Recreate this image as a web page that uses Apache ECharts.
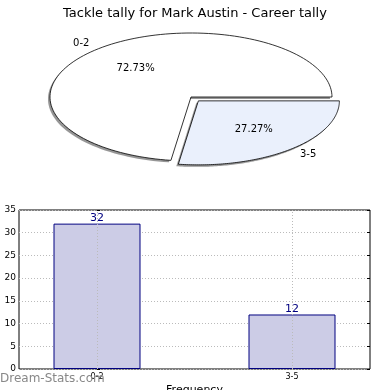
<!DOCTYPE html>
<html>
<head>
<meta charset="utf-8">
<script src="https://cdn.jsdelivr.net/npm/echarts@6/dist/echarts.min.js"></script>
<style>html,body{margin:0;padding:0;background:#fff;}#c{width:390px;height:390px;}</style>
</head>
<body>
<div id="c"></div>
<script>
var titleText = 'Tackle tally for Mark Austin - Career tally';
var pieCategories = ['0-2', '3-5'];
var pieValues = [32, 12];
var pieColors = ['#ffffff', '#eaf0fc'];
var pieExplode = [0, 0.08];

var barCategories = ['0-2', '3-5'];
var barValues = [32, 12];
var yTicks = [0, 5, 10, 15, 20, 25, 30, 35];

var chart = echarts.init(document.getElementById('c'));
var FONT = 'DejaVu Sans';

var pieTotal = pieValues.reduce(function (a, b) { return a + b; }, 0);
var PCX = 191, PCY = 97, PRX = 141, PRY = 64;

function pieRender(params, api) {
  var idx = params.dataIndex;
  var before = 0;
  for (var i = 0; i < idx; i++) before += pieValues[i];
  var v = api.value(1);
  var a0 = before / pieTotal * 2 * Math.PI;
  var a1 = (before + v) / pieTotal * 2 * Math.PI;
  var mid = (a0 + a1) / 2;
  var ex = pieExplode[idx];
  var cx = PCX + ex * PRX * Math.cos(mid);
  var cy = PCY - ex * PRY * Math.sin(mid);
  var pts = [[cx, cy]];
  var n = 120;
  for (var k = 0; k <= n; k++) {
    var t = a0 + (a1 - a0) * k / n;
    pts.push([cx + PRX * Math.cos(t), cy - PRY * Math.sin(t)]);
  }
  var lx = cx + 1.1 * PRX * Math.cos(mid);
  var ly = cy - 1.1 * PRY * Math.sin(mid);
  var px = cx + 0.6 * PRX * Math.cos(mid);
  var py = cy - 0.6 * PRY * Math.sin(mid);
  var pct = (v / pieTotal * 100).toFixed(2) + '%';
  var shadowPts = pts.map(function (p) { return [p[0] - 2, p[1] + 2]; });
  return {
    type: 'group',
    children: [
      {
        type: 'polygon',
        shape: { points: shadowPts },
        style: { fill: 'rgba(0,0,0,0.35)', shadowColor: 'rgba(0,0,0,0.3)', shadowBlur: 1 }
      },
      {
        type: 'polygon',
        shape: { points: pts },
        style: { fill: pieColors[idx], stroke: '#000', lineWidth: 0.8 }
      },
      {
        type: 'text',
        style: {
          x: lx, y: ly, text: pieCategories[idx],
          align: Math.cos(mid) < 0 ? 'right' : 'left', verticalAlign: 'middle',
          fill: '#000', font: '10px "DejaVu Sans"'
        }
      },
      {
        type: 'text',
        style: {
          x: px, y: py, text: pct,
          align: 'center', verticalAlign: 'middle',
          fill: '#000', font: '10px "DejaVu Sans"'
        }
      }
    ]
  };
}

var option = {
  backgroundColor: '#fff',
  animation: false,
  title: {
    text: titleText, left: 'center', top: 2,
    textStyle: { fontFamily: FONT, fontSize: 13, fontWeight: 'normal', color: '#000' }
  },
  grid: {
    left: 19, right: 20, top: 210, bottom: 21,
    containLabel: false, outerBoundsMode: 'none',
    show: true, borderColor: '#000', borderWidth: 1, backgroundColor: '#fff'
  },
  xAxis: {
    type: 'value', min: -0.4, max: 1.4,
    name: 'Frequency', nameLocation: 'middle', nameGap: 16,
    nameTextStyle: { fontFamily: FONT, fontSize: 11, color: '#000' },
    axisLine: { show: false },
    splitLine: { show: false },
    axisTick: { show: true, inside: true, length: 3, customValues: [0, 1], lineStyle: { color: '#000' } },
    axisLabel: {
      customValues: [0, 1], fontFamily: FONT, fontSize: 8, color: '#000', margin: 4,
      formatter: function (v) { return barCategories[Math.round(v)] || ''; }
    }
  },
  yAxis: [{
    type: 'value', min: 0, max: 35, interval: 5,
    name: 'Tackle Count', nameLocation: 'middle', nameGap: 20,
    nameTextStyle: { fontFamily: FONT, fontSize: 9, color: '#000' },
    axisLine: { show: false },
    axisTick: { show: true, inside: true, length: 3, lineStyle: { color: '#000' } },
    axisLabel: { fontFamily: FONT, fontSize: 9, color: '#000', margin: 3 },
    splitLine: { show: true, lineStyle: { color: '#bbb', type: [1, 2], width: 1 } }
  }, {
    type: 'value', min: 0, max: 35, interval: 5, position: 'right',
    axisLine: { show: false },
    axisTick: { show: true, inside: true, length: 3, lineStyle: { color: '#000' } },
    axisLabel: { show: false },
    splitLine: { show: false }
  }],
  graphic: [{
    type: 'text', left: 0, top: 373,
    style: { text: 'Dream-Stats.com', font: '12px "DejaVu Sans"', fill: '#888' },
    z: 100
  }],
  series: [
    {
      type: 'custom', coordinateSystem: 'none',
      data: pieValues.map(function (v, i) { return [i, v]; }),
      renderItem: pieRender
    },
    {
      type: 'bar',
      data: barValues.map(function (v, i) { return [i, v]; }),
      barWidth: 87,
      itemStyle: { color: '#ccccE6', borderColor: '#000080', borderWidth: 1 },
      label: { show: true, position: 'top', distance: 0, color: '#000080', fontFamily: FONT, fontSize: 11 },
      markLine: {
        silent: true, symbol: 'none', label: { show: false },
        lineStyle: { color: '#bbb', type: [1, 2], width: 1 },
        data: [{ xAxis: 0 }, { xAxis: 1 }],
        z: 3
      }
    }
  ]
};
chart.setOption(option);
</script>
</body>
</html>
